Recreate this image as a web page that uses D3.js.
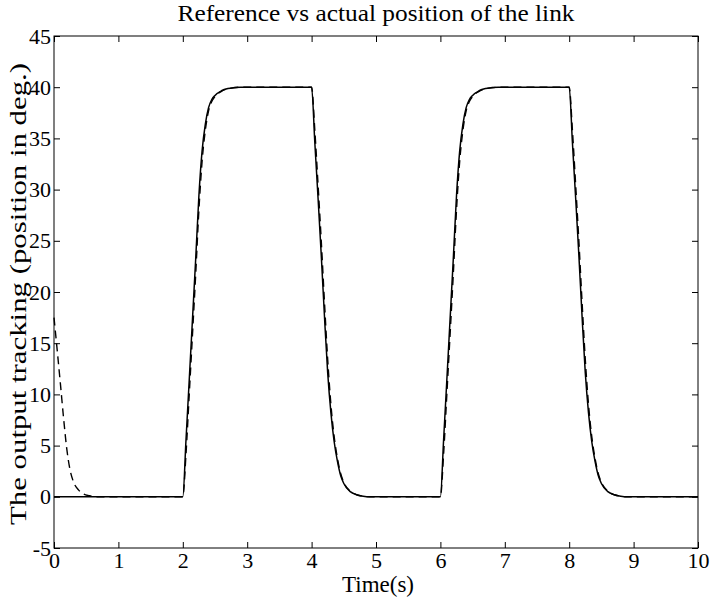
<!DOCTYPE html>
<html>
<head>
<meta charset="utf-8">
<script src="https://cdn.jsdelivr.net/npm/d3@7"></script>
<style>
  html, body { margin: 0; padding: 0; background: #fff; }
  text { font-family: "Liberation Serif", "DejaVu Serif", serif; fill: #000; }
</style>
</head>
<body>
<svg id="chart" width="713" height="601"></svg>
<script>
// ---- data ----
const titleText = "Reference vs actual position of the link";
const xLabelText = "Time(s)";
const yLabelText = "The output tracking (position in deg.)";
const xTicks = [0, 1, 2, 3, 4, 5, 6, 7, 8, 9, 10];
const yTicks = [-5, 0, 5, 10, 15, 20, 25, 30, 35, 40, 45];

// reference (solid)
const refTime = [0, 2.0, 2.05, 2.1, 2.15, 2.2, 2.25, 2.3, 2.35, 2.4, 2.45, 2.5, 2.6, 2.7, 2.8, 2.9, 3.0,
  4.0, 4.05, 4.1, 4.15, 4.2, 4.25, 4.3, 4.35, 4.4, 4.45, 4.5, 4.6, 4.7, 4.8, 4.9,
  6.0, 6.05, 6.1, 6.15, 6.2, 6.25, 6.3, 6.35, 6.4, 6.45, 6.5, 6.6, 6.7, 6.8, 6.9, 7.0,
  8.0, 8.05, 8.1, 8.15, 8.2, 8.25, 8.3, 8.35, 8.4, 8.45, 8.5, 8.6, 8.7, 8.8, 8.9, 10];
const refValue = [0, 0, 5.6, 11.4, 17.3, 23.2, 29.4, 33.8, 36.4, 38.0, 38.8, 39.2, 39.65, 39.87, 39.96, 40, 40,
  40, 34.6, 29.2, 23.6, 17.6, 12.1, 8.2, 5.4, 3.5, 2.1, 1.3, 0.5, 0.2, 0.06, 0,
  0, 5.6, 11.4, 17.3, 23.2, 29.4, 33.8, 36.4, 38.0, 38.8, 39.2, 39.65, 39.87, 39.96, 40, 40,
  40, 34.6, 29.2, 23.6, 17.6, 12.1, 8.2, 5.4, 3.5, 2.1, 1.3, 0.5, 0.2, 0.06, 0, 0];

// actual (dashed)
const actTime = [0, 0.05, 0.1, 0.15, 0.2, 0.25, 0.3, 0.38, 0.45, 0.55, 0.65,
  2.0, 2.05, 2.1, 2.15, 2.2, 2.25, 2.3, 2.35, 2.4, 2.45, 2.5, 2.6, 2.7, 2.8, 2.9, 3.0,
  4.0, 4.05, 4.1, 4.15, 4.2, 4.25, 4.3, 4.35, 4.4, 4.45, 4.5, 4.6, 4.7, 4.8, 4.9,
  6.0, 6.05, 6.1, 6.15, 6.2, 6.25, 6.3, 6.35, 6.4, 6.45, 6.5, 6.6, 6.7, 6.8, 6.9, 7.0,
  8.0, 8.05, 8.1, 8.15, 8.2, 8.25, 8.3, 8.35, 8.4, 8.45, 8.5, 8.6, 8.7, 8.8, 8.9, 10];
const actValue = [17.5, 14.3, 11.0, 7.6, 4.6, 2.6, 1.5, 0.68, 0.3, 0.1, 0,
  0, 4.2, 10.0, 15.8, 21.7, 28.0, 32.8, 35.8, 37.7, 38.6, 39.1, 39.6, 39.85, 39.95, 40, 40,
  40, 35.8, 30.5, 25.0, 19.0, 13.4, 9.0, 5.9, 3.8, 2.3, 1.4, 0.55, 0.2, 0.06, 0,
  0, 4.2, 10.0, 15.8, 21.7, 28.0, 32.8, 35.8, 37.7, 38.6, 39.1, 39.6, 39.85, 39.95, 40, 40,
  40, 35.8, 30.5, 25.0, 19.0, 13.4, 9.0, 5.9, 3.8, 2.3, 1.4, 0.55, 0.2, 0.06, 0, 0];

// ---- layout ----
const svg = d3.select("#chart");
const mLeft = 54, mRight = 698, mTop = 36, mBottom = 548;
const serif = "Liberation Serif, DejaVu Serif, serif";

const x = d3.scaleLinear().domain([0, 10]).range([mLeft, mRight]);
const y = d3.scaleLinear().domain([-5, 45]).range([mBottom, mTop]);

// frame
svg.append("rect")
  .attr("x", mLeft).attr("y", mTop)
  .attr("width", mRight - mLeft).attr("height", mBottom - mTop)
  .attr("fill", "none").attr("stroke", "#000").attr("stroke-width", 1);

const tickLen = 6;
const fmt = d => String(d); // plain hyphen minus, as in the reference

// bottom axis
const gx = svg.append("g").attr("transform", `translate(0,${mBottom})`)
  .call(d3.axisBottom(x).tickValues(xTicks).tickFormat(fmt)
    .tickSizeInner(-tickLen).tickSizeOuter(0).tickPadding(4));
gx.attr("font-family", serif).attr("font-size", 22);
gx.select(".domain").remove();

// top axis (ticks only)
const gt = svg.append("g").attr("transform", `translate(0,${mTop})`)
  .call(d3.axisTop(x).tickValues(xTicks).tickFormat("").tickSizeInner(-tickLen).tickSizeOuter(0));
gt.select(".domain").remove();

// left axis
const gy = svg.append("g").attr("transform", `translate(${mLeft},0)`)
  .call(d3.axisLeft(y).tickValues(yTicks).tickFormat(fmt)
    .tickSizeInner(-tickLen).tickSizeOuter(0).tickPadding(3));
gy.attr("font-family", serif).attr("font-size", 22);
gy.select(".domain").remove();

// right axis (ticks only)
const gr = svg.append("g").attr("transform", `translate(${mRight},0)`)
  .call(d3.axisRight(y).tickValues(yTicks).tickFormat("").tickSizeInner(-tickLen).tickSizeOuter(0));
gr.select(".domain").remove();

svg.selectAll(".tick line").attr("stroke", "#000");

// lines
const line = d3.line().x(d => x(d[0])).y(d => y(d[1])).curve(d3.curveMonotoneX);

svg.append("path")
  .datum(refTime.map((t, i) => [t, refValue[i]]))
  .attr("d", line)
  .attr("fill", "none").attr("stroke", "#000").attr("stroke-width", 1.5);

svg.append("path")
  .datum(actTime.map((t, i) => [t, actValue[i]]))
  .attr("d", line)
  .attr("fill", "none").attr("stroke", "#000").attr("stroke-width", 1.4)
  .attr("stroke-dasharray", "8,5");

// title
svg.append("text")
  .attr("x", 376).attr("y", 21)
  .attr("text-anchor", "middle").attr("font-size", 23)
  .attr("textLength", 397).attr("lengthAdjust", "spacingAndGlyphs")
  .text(titleText);

// x label
svg.append("text")
  .attr("x", 378).attr("y", 592)
  .attr("text-anchor", "middle").attr("font-size", 23)
  .text(xLabelText);

// y label
svg.append("text")
  .attr("transform", `translate(26,${294}) rotate(-90)`)
  .attr("text-anchor", "middle").attr("font-size", 23)
  .attr("textLength", 462).attr("lengthAdjust", "spacingAndGlyphs")
  .text(yLabelText);
</script>
</body>
</html>
